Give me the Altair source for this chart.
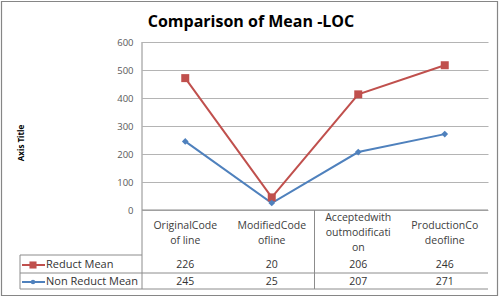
import altair as alt
import pandas as pd

# Chart data
categories = ["OriginalCode of line", "ModifiedCode ofline",
              "Acceptedwith outmodification", "ProductionCode ofline"]
category_lines = [["OriginalCode", "of line"], ["ModifiedCode", "ofline"],
                  ["Acceptedwith", "outmodificati", "on"], ["ProductionCo", "deofline"]]
series_names = ["Reduct Mean", "Non Reduct Mean"]
reduct_mean = [226, 20, 206, 246]
non_reduct_mean = [245, 25, 207, 271]
y_ticks = [0, 100, 200, 300, 400, 500, 600]

RED = "#C0504D"
BLUE = "#4F81BD"
GRID = "#8c8c8c"
FONT = "Open Sans"

# Plot-area geometry (pixels)
W, H = 346, 168
PAD = {"left": 142, "top": 42, "right": 11, "bottom": 88}

# Long table; lines are stacked (Reduct sits on top of Non Reduct)
rows = []
for i, c in enumerate(categories):
    rows.append({"series": "Non Reduct Mean", "category": c, "value": non_reduct_mean[i],
                 "plotted": non_reduct_mean[i], "label": category_lines[i],
                 "nlines": len(category_lines[i])})
    rows.append({"series": "Reduct Mean", "category": c, "value": reduct_mean[i],
                 "plotted": non_reduct_mean[i] + reduct_mean[i], "label": category_lines[i],
                 "nlines": len(category_lines[i])})
df = pd.DataFrame(rows)

xenc = alt.X("category:N", sort=categories, axis=None,
             scale=alt.Scale(type="point", padding=0.5, domain=categories))
yenc = alt.Y("plotted:Q", scale=alt.Scale(domain=[0, 600], nice=False, zero=True),
             axis=alt.Axis(values=y_ticks, tickCount=7, grid=True, gridColor="#b4b4b4",
                           gridWidth=1, domain=False, ticks=False, labelPadding=9,
                           labelFontSize=9.5, labelColor="#595959", labelFont=FONT,
                           labelOverlap=False, title=None))
color = alt.Color("series:N", legend=None,
                  scale=alt.Scale(domain=series_names, range=[RED, BLUE]))

base = alt.Chart(df)
is_red = alt.datum.series == "Reduct Mean"
is_blue = alt.datum.series == "Non Reduct Mean"

lines = base.mark_line(strokeWidth=2).encode(x=xenc, y=yenc, color=color)

red_pts = base.transform_filter(is_red).mark_point(
    shape="square", filled=True, size=64, color=RED, opacity=1
).encode(x=xenc, y="plotted:Q")

blue_pts = base.transform_filter(is_blue).mark_point(
    shape="diamond", filled=True, size=45, color=BLUE, opacity=1
).encode(x=xenc, y="plotted:Q")

# Category labels under the plot (centred on the header band)
label_style = dict(font=FONT, fontSize=10.5, color="#404040", lineHeight=15, baseline="middle")
cat_two = base.transform_filter(is_red & (alt.datum.nlines == 2)).mark_text(
    **label_style).encode(x=xenc, y=alt.value(184), text="label")
cat_three = base.transform_filter(is_red & (alt.datum.nlines == 3)).mark_text(
    **label_style).encode(x=xenc, y=alt.value(176), text="label")

# Data-table values
val_style = dict(font=FONT, fontSize=10.5, color="#333333", baseline="middle")
reduct_vals = base.transform_filter(is_red).mark_text(**val_style).encode(
    x=xenc, y=alt.value(223), text="value:Q")
non_vals = base.transform_filter(is_blue).mark_text(**val_style).encode(
    x=xenc, y=alt.value(240), text="value:Q")

# Legend keys inside the data table
leg = pd.DataFrame({"series": series_names})
leg_base = alt.Chart(leg)
leg_red_line = leg_base.transform_filter(is_red).mark_rule(strokeWidth=2, color=RED).encode(
    x=alt.value(-120), x2=alt.value(-97), y=alt.value(223))
leg_blue_line = leg_base.transform_filter(is_blue).mark_rule(strokeWidth=2, color=BLUE).encode(
    x=alt.value(-120), x2=alt.value(-97), y=alt.value(240))
leg_sq = leg_base.transform_filter(is_red).mark_point(
    shape="square", filled=True, size=50, color=RED, opacity=1
).encode(x=alt.value(-109), y=alt.value(223))
leg_dot = leg_base.transform_filter(is_blue).mark_point(
    shape="circle", filled=True, size=20, color=BLUE, opacity=1
).encode(x=alt.value(-109), y=alt.value(240))
leg_style = dict(font=FONT, fontSize=11, color="#333333", align="left", baseline="middle")
leg_red_txt = leg_base.transform_filter(is_red).mark_text(**leg_style).encode(
    x=alt.value(-96), y=alt.value(223), text="series:N")
leg_blue_txt = leg_base.transform_filter(is_blue).mark_text(**leg_style).encode(
    x=alt.value(-96), y=alt.value(240), text="series:N")


def hrule(y, x0, x1):
    return leg_base.transform_filter(is_red).mark_rule(color=GRID, strokeWidth=1).encode(
        x=alt.value(x0), x2=alt.value(x1), y=alt.value(y))


def vrule(x, y0, y1):
    return leg_base.transform_filter(is_red).mark_rule(color=GRID, strokeWidth=1).encode(
        x=alt.value(x), y=alt.value(y0), y2=alt.value(y1))


# Table grid lines (pixel offsets from the plot origin)
table_lines = [
    hrule(168, 0, W), hrule(213, -122, 0), hrule(231, -122, W), hrule(247, -122, W),
    vrule(-122, 213, 247), vrule(0, 0, 247), vrule(172.5, 168, 247),
]

# Outer frame
frame = leg_base.transform_filter(is_red).mark_rect(
    fill=None, stroke="#868686", strokeWidth=1.2
).encode(x=alt.value(-140.5), x2=alt.value(355.5), y=alt.value(-40.5), y2=alt.value(253.5))

# Title and vertical axis title
title = alt.Chart(pd.DataFrame({"t": ["Comparison of Mean -LOC"]})).mark_text(
    font=FONT, fontSize=16, fontWeight="bold", color="#000000", baseline="middle"
).encode(x=alt.value(109), y=alt.value(-20), text="t:N")
ytitle = alt.Chart(pd.DataFrame({"t": ["Axis Title"]})).mark_text(
    font=FONT, fontSize=8, fontWeight="bold", color="#000000", angle=270, baseline="middle"
).encode(x=alt.value(-120), y=alt.value(101), text="t:N")

chart = alt.layer(
    lines, frame, *table_lines, red_pts, blue_pts, cat_two, cat_three, reduct_vals, non_vals,
    leg_red_line, leg_blue_line, leg_sq, leg_dot, leg_red_txt, leg_blue_txt, title, ytitle
).properties(
    width=W, height=H, padding=PAD, autosize=alt.AutoSizeParams(type="none"),
    background="white"
).configure_view(stroke=None)

chart.save("out.html", embed_options={"renderer": "svg", "actions": False})
